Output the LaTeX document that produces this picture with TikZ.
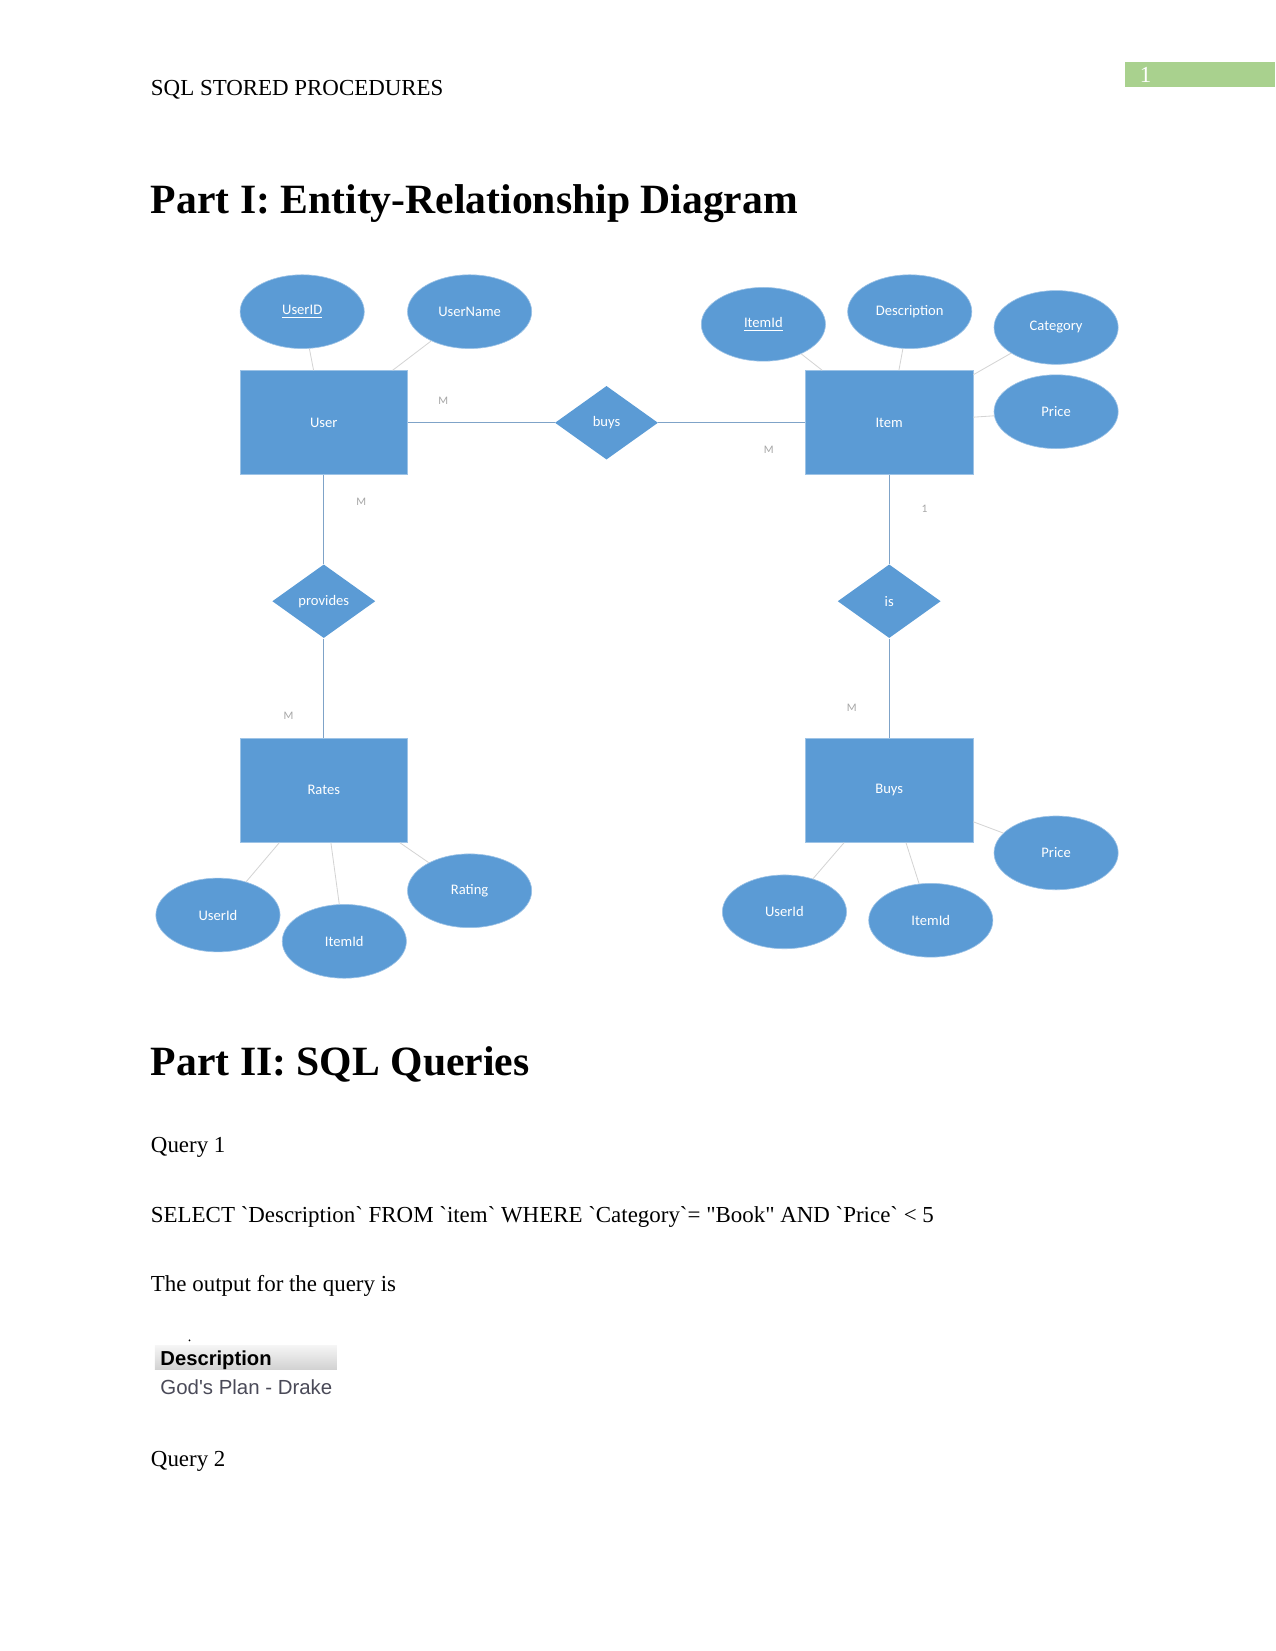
\documentclass[tikz,border=0pt]{standalone}
\usepackage{fontspec}
\setmainfont{Liberation Serif}[Ligatures=TeXOff]
\newfontfamily\diafont{Carlito}
\newfontfamily\arialfont{Liberation Sans}[Ligatures=TeXOff]
\usetikzlibrary{shapes.geometric}
\definecolor{erblue}{HTML}{5B9BD5}
\definecolor{erborder}{HTML}{9DC3E6}
\definecolor{relline}{HTML}{7FA3C8}
\definecolor{attline}{HTML}{D4D4D4}
\definecolor{cardgrey}{HTML}{A6A6A6}
\definecolor{pagegreen}{HTML}{A9D18E}
\definecolor{valgrey}{HTML}{4A4A58}
\begin{document}
\begin{tikzpicture}[x=0.50537pt,y=-0.50537pt,
  bodytext/.style={anchor=base west,inner sep=0pt,font=\fontsize{11}{13}\selectfont},
  titletext/.style={anchor=base west,inner sep=0pt,font=\fontsize{20}{24}\selectfont\bfseries},
  entity/.style={rectangle,fill=erblue,draw=erborder,line width=0.4pt,minimum width=80.4pt,minimum height=50pt,inner sep=0pt,text=white,font=\diafont\fontsize{7}{8}\selectfont},
  attr/.style={ellipse,fill=erblue,draw=erborder,line width=0.3pt,minimum width=59.6pt,minimum height=35.4pt,inner sep=0pt,text=white,font=\diafont\fontsize{7}{8}\selectfont},
  rel/.style={diamond,fill=erblue,aspect=1.4,minimum width=49.5pt,minimum height=35.4pt,inner sep=0pt,text=white,font=\diafont\fontsize{7}{8}\selectfont},
  relconn/.style={draw=relline,line width=0.5pt},
  attconn/.style={draw=attline,line width=0.4pt},
  card/.style={inner sep=0pt,text=cardgrey,font=\diafont\fontsize{5.5}{6}\selectfont}
]
\useasboundingbox (0,0) rectangle (1211,1568);
% page header
\node[bodytext] (hdr) at (143,91) {SQL STORED PROCEDURES};
\fill[pagegreen] (1068,59) rectangle (1211,83);
\node[inner sep=0pt,text=white,font=\fontsize{11}{13}\selectfont] (pnum) at (1088,71) {1};
% title
\node[titletext] (t1) at (143,203) {Part I: Entity-Relationship Diagram};
% ER diagram: entities
\node[entity] (user) at (307.5,401.5) {User};
\node[entity] (item) at (844.5,401.5) {Item};
\node[entity] (rates) at (307.5,750.5) {Rates};
\node[entity] (buysE) at (844.5,750.5) {Buys};
% relationships
\node[rel] (buys) at (576,401.5) {buys};
\node[rel] (provides) at (307.5,571) {provides};
\node[rel] (is) at (844.5,571) {is};
% attributes
\node[attr] (userid) at (287,296) {\underline{UserID}};
\node[attr] (username) at (446,296) {UserName};
\node[attr] (itemid) at (725,308) {\underline{ItemId}};
\node[attr] (desc) at (864,296) {Description};
\node[attr] (cat) at (1003,311) {Category};
\node[attr] (price) at (1003,391) {Price};
\node[attr] (r_uid) at (207,869) {UserId};
\node[attr] (r_iid) at (327,894) {ItemId};
\node[attr] (r_rat) at (446,846) {Rating};
\node[attr] (b_uid) at (745,866) {UserId};
\node[attr] (b_iid) at (884,874) {ItemId};
\node[attr] (b_pr) at (1003,810) {Price};
% relationship connectors
\draw[relconn] (user) -- (buys);
\draw[relconn] (buys) -- (item);
\draw[relconn] (user) -- (provides);
\draw[relconn] (provides) -- (rates);
\draw[relconn] (item) -- (is);
\draw[relconn] (is) -- (buysE);
% attribute connectors
\draw[attconn] (userid) -- (user);
\draw[attconn] (username) -- (user);
\draw[attconn] (itemid) -- (item);
\draw[attconn] (desc) -- (item);
\draw[attconn] (cat) -- (item);
\draw[attconn] (price) -- (item);
\draw[attconn] (r_uid) -- (rates);
\draw[attconn] (r_iid) -- (rates);
\draw[attconn] (r_rat) -- (rates);
\draw[attconn] (b_uid) -- (buysE);
\draw[attconn] (b_iid) -- (buysE);
\draw[attconn] (b_pr) -- (buysE);
% cardinalities
\node[card] (c1) at (421,381) {M};
\node[card] (c2) at (730,427) {M};
\node[card] (c3) at (343,477) {M};
\node[card] (c4) at (274,680) {M};
\node[card] (c5) at (878,483) {1};
\node[card] (c6) at (809,672) {M};
% part II
\node[titletext] (t2) at (143,1021) {Part II: SQL Queries};
\node[bodytext] (q1) at (143,1095) {Query 1};
\node[bodytext] (sql) at (143,1161) {SELECT `Description` FROM `item` WHERE `Category`= "Book" AND `Price` < 5};
\node[bodytext] (out) at (143,1227) {The output for the query is};
% result table
\shade[top color=white!96!black,bottom color=black!18] (147,1278) rectangle (320,1301);
\fill[black] (180,1273) circle (0.9);
\node[anchor=base west,inner sep=0pt,font=\arialfont\bfseries\fontsize{9.7}{11}\selectfont] (th) at (152,1297) {Description};
\node[anchor=base west,inner sep=0pt,text=valgrey,font=\arialfont\fontsize{9.8}{11}\selectfont] (td) at (152,1324) {God's Plan - Drake};
\node[bodytext] (q2) at (143,1393) {Query 2};
\end{tikzpicture}
\end{document}
